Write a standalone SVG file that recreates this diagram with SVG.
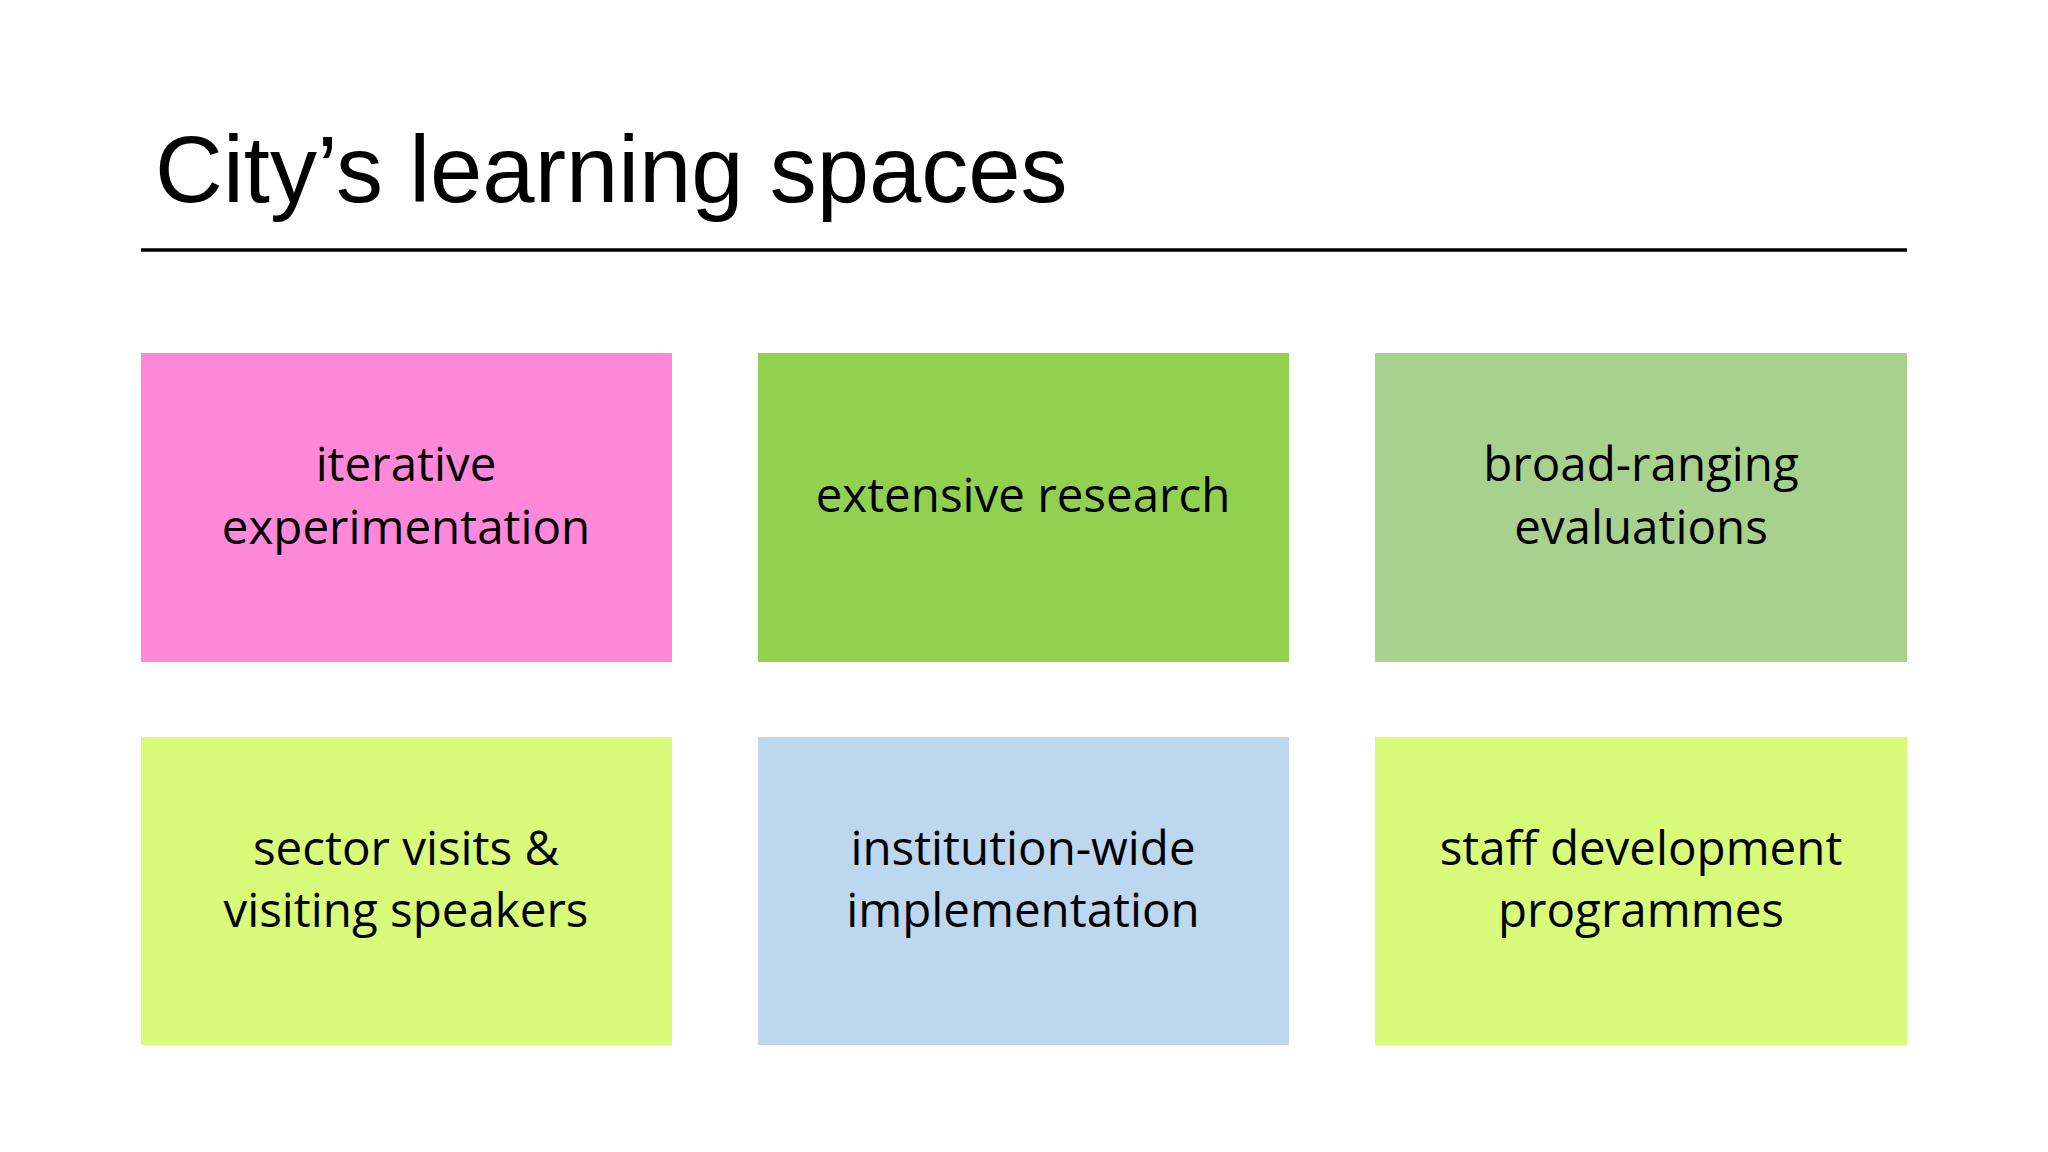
<svg xmlns="http://www.w3.org/2000/svg" width="2048" height="1152" viewBox="0 0 2048 1152">
<style>
.title{font-family:"Liberation Sans",Arial,sans-serif;font-size:94px;fill:#000}
.lbl{font-family:"Open Sans","Noto Sans",sans-serif;font-size:47.5px;fill:#000;text-anchor:middle}
</style>
<rect width="2048" height="1152" fill="#fff"/>
<text class="title" x="155" y="202">City’s learning spaces</text>
<line x1="141" y1="250" x2="1907" y2="250" stroke="#000" stroke-width="3.5"/>
<g id="connectors"></g>
<g id="n1"><rect x="141" y="353" width="531" height="309" fill="#FF88D8"/><text class="lbl" x="406" y="481">iterative</text><text class="lbl" x="406" y="544">experimentation</text></g>
<g id="n2"><rect x="758" y="353" width="531" height="309" fill="#92D050"/><text class="lbl" x="1023" y="512">extensive research</text></g>
<g id="n3"><rect x="1375" y="353" width="532" height="309" fill="#A9D18E"/><text class="lbl" x="1641" y="481">broad-ranging</text><text class="lbl" x="1641" y="544">evaluations</text></g>
<g id="n4"><rect x="141" y="737" width="531" height="308" fill="#D9FB7A"/><text class="lbl" x="406" y="865">sector visits &amp;</text><text class="lbl" x="406" y="927">visiting speakers</text></g>
<g id="n5"><rect x="758" y="737" width="531" height="308" fill="#BDD7EE"/><text class="lbl" x="1023" y="865">institution-wide</text><text class="lbl" x="1023" y="927">implementation</text></g>
<g id="n6"><rect x="1375" y="737" width="532" height="308" fill="#D9FB7A"/><text class="lbl" x="1641" y="865">staff development</text><text class="lbl" x="1641" y="927">programmes</text></g>
</svg>
